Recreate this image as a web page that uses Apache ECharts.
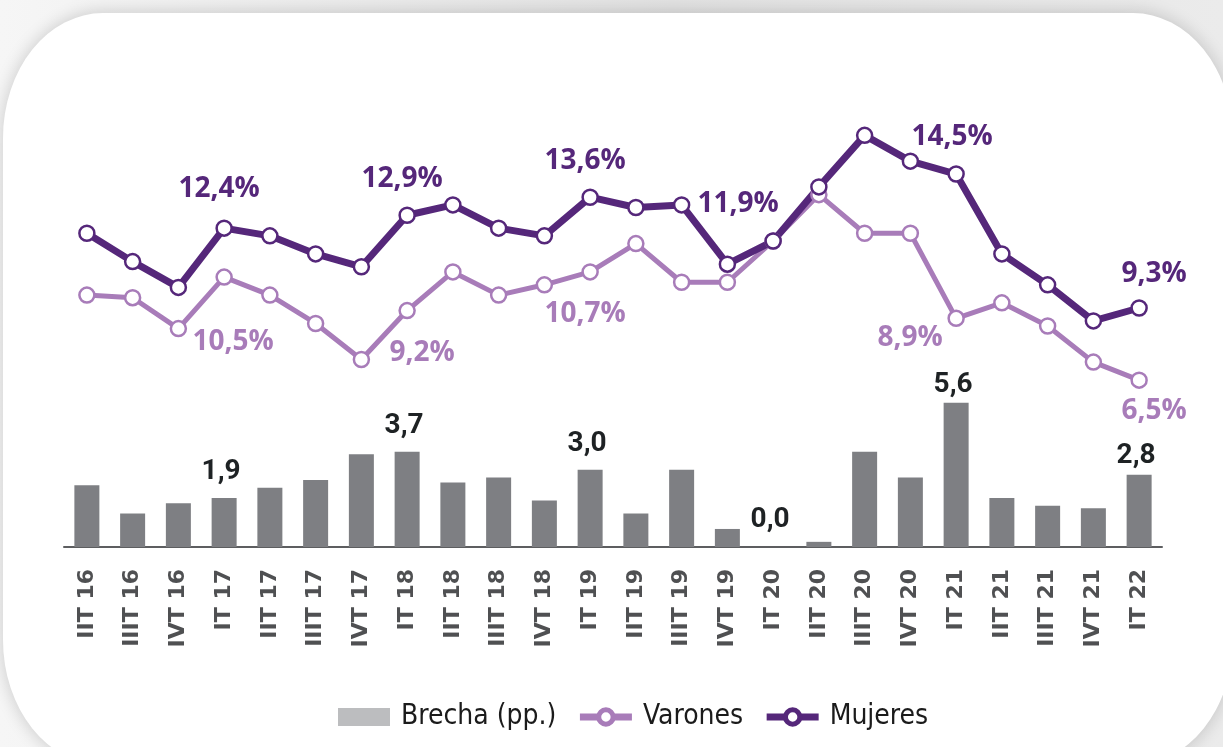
<!DOCTYPE html>
<html>
<head>
<meta charset="utf-8">
<script src="https://cdn.jsdelivr.net/npm/echarts@6/dist/echarts.min.js"></script>
<style>
  html, body { margin: 0; padding: 0; }
  body {
    width: 1223px; height: 747px; overflow: hidden; position: relative;
    background: linear-gradient(to right, #f6f6f6 0%, #e2e2e2 55%, #ebebeb 100%);
  }
  #card {
    position: absolute; left: 3px; top: 13px; width: 1230px; height: 752px;
    background: #fff; border-radius: 100px / 125px;
    box-shadow: 0 0 16px 2px rgba(0, 0, 0, 0.15);
  }
  #chart { position: absolute; left: 0; top: 0; width: 1223px; height: 747px; }
</style>
</head>
<body>
<div id="card"></div>
<div id="chart"></div>
<script>
// quarters
const categories = ['IIT 16', 'IIIT 16', 'IVT 16', 'IT 17', 'IIT 17', 'IIIT 17', 'IVT 17',
  'IT 18', 'IIT 18', 'IIIT 18', 'IVT 18', 'IT 19', 'IIT 19', 'IIIT 19', 'IVT 19',
  'IT 20', 'IIT 20', 'IIIT 20', 'IVT 20', 'IT 21', 'IIT 21', 'IIIT 21', 'IVT 21', 'IT 22'];

// desocupacion (%)
const mujeres = [12.2, 11.1, 10.1, 12.4, 12.1, 11.4, 10.9, 12.9, 13.3, 12.4, 12.1, 13.6,
  13.2, 13.3, 11.0, 11.9, 14.0, 16.0, 15.0, 14.5, 11.4, 10.2, 8.8, 9.3];
const varones = [9.8, 9.7, 8.5, 10.5, 9.8, 8.7, 7.3, 9.2, 10.7, 9.8, 10.2, 10.7,
  11.8, 10.3, 10.3, 11.9, 13.7, 12.2, 12.2, 8.9, 9.5, 8.6, 7.2, 6.5];

// brecha (pp.)
const brecha = [2.4, 1.3, 1.7, 1.9, 2.3, 2.6, 3.6, 3.7, 2.5, 2.7, 1.8, 3.0,
  1.3, 3.0, 0.7, 0.0, 0.2, 3.7, 2.7, 5.6, 1.9, 1.6, 1.5, 2.8];

// which points carry a value label
const labeledMujeres = [3, 7, 11, 15, 19, 23];
const labeledVarones = [3, 7, 11, 19, 23];
const labeledBrecha = [3, 7, 11, 15, 19, 23];

// label offsets (px), keyed by point index
const mujeresOffset = { 3: [-5, -39], 7: [-5, -36], 11: [-5, -36], 15: [-35, -37], 19: [-4, -37], 23: [15, -34] };
const varonesOffset = { 3: [9, 65], 7: [15, 42], 11: [-5, 42], 19: [-46, 20], 23: [15, 31] };
const brechaOffset = { 3: [-3, -26], 7: [-3, -26], 11: [-3, -26], 15: [-3, -27], 19: [-3, -18], 23: [-3, -19] };

const DARK = '#55277a';
const LIGHT = '#a87cb9';
const BAR = '#7e7f83';

const fmt = v => v.toFixed(1).replace('.', ',');

function lineData(values, labeled, offsets, color) {
  return values.map((v, i) => {
    if (labeled.indexOf(i) < 0) return v;
    return {
      value: v,
      label: {
        show: true,
        position: 'inside',
        offset: offsets[i],
        formatter: p => fmt(p.value) + '%',
        color: color,
        fontFamily: 'Open Sans',
        fontWeight: 'bold',
        fontSize: 28
      }
    };
  });
}

const barData = brecha.map((v, i) => {
  if (labeledBrecha.indexOf(i) < 0) return v;
  return {
    value: v,
    label: {
      show: true,
      position: 'top',
      distance: 0,
      verticalAlign: 'middle',
      offset: brechaOffset[i],
      formatter: p => fmt(p.value),
      color: '#1e2224',
      fontFamily: 'Roboto',
      fontWeight: 'bold',
      fontSize: 28
    }
  };
});

const chart = echarts.init(document.getElementById('chart'), null, { renderer: 'canvas' });

chart.setOption({
  animation: false,
  grid: [
    { left: 64, right: 61, top: 109.6, height: 309.2 },
    { left: 64, right: 61, top: 392.4, height: 154.6 }
  ],
  xAxis: [
    { type: 'category', gridIndex: 0, data: categories, show: false },
    {
      type: 'category', gridIndex: 1, data: categories,
      axisLine: { lineStyle: { color: '#5d5e60', width: 2 } },
      axisTick: { show: false },
      axisLabel: {
        interval: 0, rotate: 90, margin: 22,
        color: '#4f5052', fontFamily: 'DejaVu Sans', fontWeight: 'bold', fontSize: 22
      }
    }
  ],
  yAxis: [
    { type: 'value', gridIndex: 0, min: 5, max: 17, show: false },
    { type: 'value', gridIndex: 1, min: 0, max: 6, show: false }
  ],
  legend: {
    left: 333, top: 698,
    itemWidth: 52, itemHeight: 18, itemGap: 20,
    textStyle: {
      fontFamily: 'DejaVu Sans Condensed', fontSize: 28, color: '#1b1b1b',
      padding: [0, 0, 0, 6]
    },
    data: [
      { name: 'Brecha (pp.)', icon: 'rect', itemStyle: { color: '#bcbdbf' } },
      {
        name: 'Varones',
        itemStyle: { color: '#fff', borderColor: LIGHT, borderWidth: 5 },
        lineStyle: { color: LIGHT, width: 7 }
      },
      {
        name: 'Mujeres',
        itemStyle: { color: '#fff', borderColor: DARK, borderWidth: 5 },
        lineStyle: { color: DARK, width: 7 }
      }
    ]
  },
  series: [
    {
      name: 'Brecha (pp.)',
      type: 'bar',
      xAxisIndex: 1, yAxisIndex: 1,
      barWidth: 25,
      itemStyle: { color: BAR },
      data: barData
    },
    {
      name: 'Varones',
      type: 'line',
      xAxisIndex: 0, yAxisIndex: 0,
      symbol: 'circle', symbolSize: 15,
      color: LIGHT,
      lineStyle: { color: LIGHT, width: 5 },
      itemStyle: { color: '#fff', borderColor: LIGHT, borderWidth: 2.5 },
      data: lineData(varones, labeledVarones, varonesOffset, LIGHT)
    },
    {
      name: 'Mujeres',
      type: 'line',
      xAxisIndex: 0, yAxisIndex: 0,
      symbol: 'circle', symbolSize: 15,
      color: DARK,
      lineStyle: { color: DARK, width: 7 },
      itemStyle: { color: '#fff', borderColor: DARK, borderWidth: 2.5 },
      data: lineData(mujeres, labeledMujeres, mujeresOffset, DARK)
    }
  ]
});
</script>
</body>
</html>
